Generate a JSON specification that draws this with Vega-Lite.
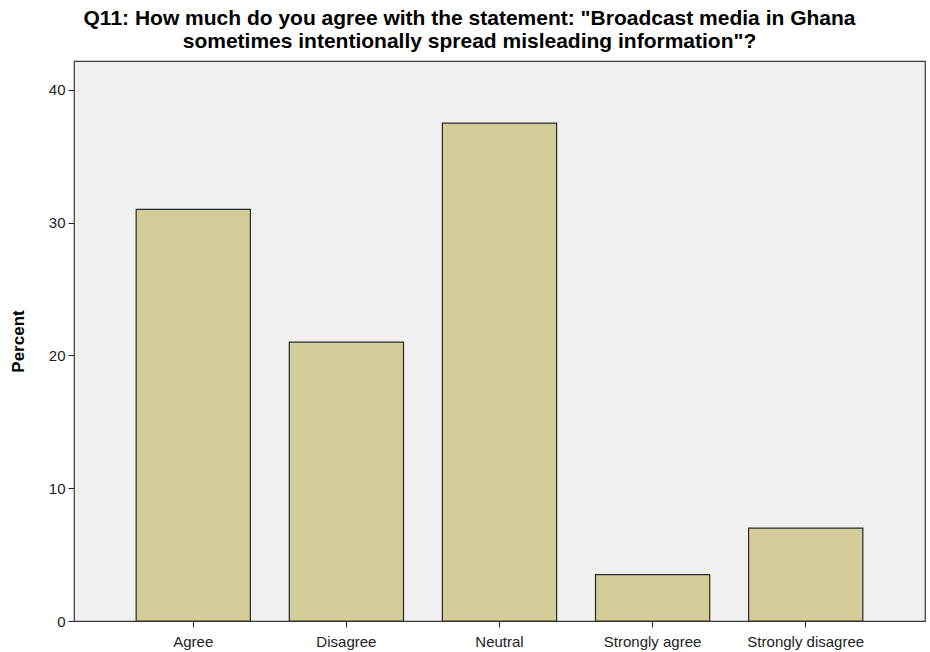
{
  "$schema": "https://vega.github.io/schema/vega-lite/v6.json",
  "width": 851,
  "height": 560,
  "autosize": "none",
  "padding": {"left": 74, "top": 61, "right": 5, "bottom": 31},
  "background": "white",
  "title": {
    "text": ["Q11: How much do you agree with the statement: \"Broadcast media in Ghana", "sometimes intentionally spread misleading information\"?"],
    "font": "Liberation Sans",
    "fontSize": 21,
    "fontWeight": "bold",
    "color": "#000000",
    "anchor": "middle",
    "dx": -30,
    "offset": 9,
    "lineHeight": 23
  },
  "config": {
    "view": {"fill": "#f0f0f0", "stroke": "#3a3a3a", "strokeWidth": 1.2},
    "axis": {
      "labelFont": "Liberation Sans",
      "labelFontSize": 15,
      "labelColor": "#222222",
      "tickColor": "#222222",
      "tickSize": 6,
      "domain": false,
      "grid": false
    }
  },
  "data": {
    "values": [
      {"response": "Agree", "percent": 31.0},
      {"response": "Disagree", "percent": 21.0},
      {"response": "Neutral", "percent": 37.5},
      {"response": "Strongly agree", "percent": 3.5},
      {"response": "Strongly disagree", "percent": 7.0}
    ]
  },
  "mark": {"type": "bar", "fill": "#d3ce97", "stroke": "#2a2a2a", "strokeWidth": 1.2},
  "encoding": {
    "x": {
      "field": "response",
      "type": "nominal",
      "sort": null,
      "scale": {"paddingInner": 0.254, "paddingOuter": 0.406},
      "axis": {"title": null, "labelAngle": 0, "labelPadding": 7}
    },
    "y": {
      "field": "percent",
      "type": "quantitative",
      "scale": {"domain": [0, 42.18], "nice": false},
      "axis": {
        "values": [0, 10, 20, 30, 40],
        "title": "Percent",
        "titleFont": "Liberation Sans",
        "titleFontSize": 17,
        "titleFontWeight": "bold",
        "titleColor": "#000000",
        "titlePadding": 21,
        "labelPadding": 3
      }
    }
  }
}
